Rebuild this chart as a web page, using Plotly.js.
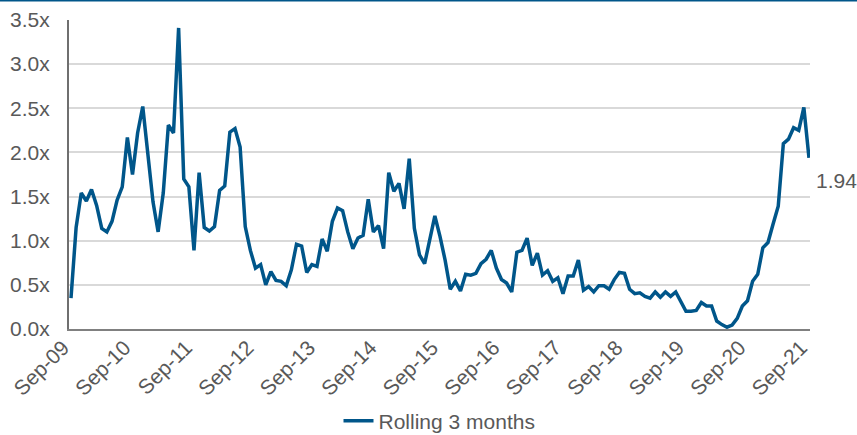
<!DOCTYPE html>
<html>
<head>
<meta charset="utf-8">
<script src="https://cdn.plot.ly/plotly-3.0.1.min.js"></script>
<style>
  html, body { margin: 0; padding: 0; background: #ffffff; }
  #chart { width: 857px; height: 435px; }
</style>
</head>
<body>
<div id="chart"></div>
<script>
// Monthly observations, Sep-09 .. Sep-21 (145 months)
const seriesName = "Rolling 3 months";
const rolling3m = [
  0.35, 1.15, 1.54, 1.45, 1.58, 1.40, 1.14, 1.10, 1.22, 1.46, 1.61, 2.17,
  1.75, 2.22, 2.52, 1.99, 1.44, 1.10, 1.54, 2.31, 2.22, 3.41, 1.70, 1.61,
  0.89, 1.77, 1.15, 1.11, 1.16, 1.57, 1.62, 2.23, 2.27, 2.06, 1.16, 0.89,
  0.69, 0.73, 0.50, 0.65, 0.55, 0.54, 0.49, 0.67, 0.96, 0.94, 0.64, 0.73,
  0.71, 1.02, 0.88, 1.22, 1.37, 1.34, 1.10, 0.91, 1.03, 1.06, 1.47, 1.10,
  1.17, 0.91, 1.77, 1.56, 1.65, 1.36, 1.93, 1.14, 0.84, 0.74, 1.01, 1.28,
  1.05, 0.78, 0.45, 0.54, 0.43, 0.62, 0.61, 0.63, 0.74, 0.79, 0.89, 0.69,
  0.56, 0.52, 0.42, 0.87, 0.89, 1.03, 0.72, 0.86, 0.61, 0.66, 0.54, 0.58,
  0.40, 0.60, 0.60, 0.78, 0.44, 0.48, 0.42, 0.49, 0.49, 0.45, 0.56, 0.64,
  0.63, 0.45, 0.40, 0.41, 0.37, 0.35, 0.42, 0.36, 0.42, 0.37, 0.42, 0.31,
  0.20, 0.20, 0.21, 0.30, 0.26, 0.26, 0.09, 0.05, 0.02, 0.045, 0.12, 0.26,
  0.32, 0.54, 0.62, 0.92, 0.98, 1.19, 1.39, 2.10, 2.15, 2.28, 2.25, 2.51,
  1.94
];
const xTickLabels = ["Sep-09","Sep-10","Sep-11","Sep-12","Sep-13","Sep-14","Sep-15",
                     "Sep-16","Sep-17","Sep-18","Sep-19","Sep-20","Sep-21"];
const yTickVals = [0, 0.5, 1, 1.5, 2, 2.5, 3, 3.5];
const yTickText = ["0.0x","0.5x","1.0x","1.5x","2.0x","2.5x","3.0x","3.5x"];
const lastLabel = "1.94";

const monthIdx = rolling3m.map((_, i) => i);
const xTickVals = xTickLabels.map((_, i) => i * 12);
const lastIdx = rolling3m.length - 1;

const textColor = "#595959";
const lineColor = "#00568A";
const fontFam = "Liberation Sans, Arial, sans-serif";

const trace = {
  x: monthIdx,
  y: rolling3m,
  type: "scatter",
  mode: "lines",
  name: seriesName,
  line: { color: lineColor, width: 3.5 },
  hoverinfo: "skip"
};

const layout = {
  width: 857,
  height: 435,
  margin: { l: 69, r: 47, t: 20, b: 106, autoexpand: false },
  paper_bgcolor: "#ffffff",
  plot_bgcolor: "#ffffff",
  font: { family: fontFam, size: 21, color: textColor },
  showlegend: true,
  legend: {
    orientation: "h",
    xref: "paper", yref: "paper",
    x: 0.5, xanchor: "center",
    y: -0.298, yanchor: "middle",
    font: { family: fontFam, size: 21, color: textColor },
    bgcolor: "rgba(0,0,0,0)"
  },
  xaxis: {
    range: [-0.39, 144.2],
    tickmode: "array",
    tickvals: xTickVals,
    ticktext: xTickLabels,
    tickangle: -45,
    ticks: "",
    ticklabelshift: -8,
    ticklabelstandoff: -4,
    showgrid: false,
    zeroline: false,
    showline: true,
    linecolor: "#808080",
    linewidth: 2,
    automargin: false,
    tickfont: { family: fontFam, size: 21, color: textColor }
  },
  yaxis: {
    range: [0, 3.5],
    tickmode: "array",
    tickvals: yTickVals,
    ticktext: yTickText,
    ticks: "",
    ticklabelstandoff: 13,
    showgrid: true,
    gridcolor: "#d9d9d9",
    gridwidth: 2,
    zeroline: false,
    showline: true,
    linecolor: "#6f6f6f",
    linewidth: 2,
    automargin: false,
    tickfont: { family: fontFam, size: 21, color: textColor }
  },
  shapes: [{
    type: "line",
    xref: "paper", yref: "paper",
    x0: -0.2, x1: 1.2,
    y0: 1 + 19.5 / 309, y1: 1 + 19.5 / 309,
    line: { color: "#00568A", width: 2 }
  }],
  annotations: [{
    x: lastIdx, y: rolling3m[lastIdx],
    xref: "x", yref: "y",
    text: lastLabel,
    showarrow: false,
    xanchor: "left", yanchor: "middle",
    xshift: 5, yshift: -23,
    font: { family: fontFam, size: 21, color: textColor }
  }]
};

Plotly.newPlot("chart", [trace], layout, { displayModeBar: false, staticPlot: true });
</script>
</body>
</html>
